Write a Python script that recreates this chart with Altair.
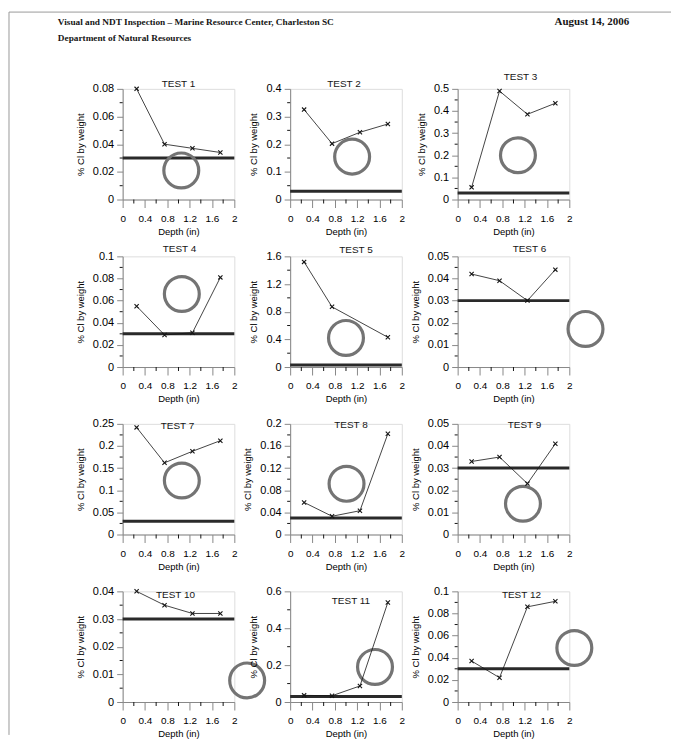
import altair as alt
import pandas as pd

# ---------------- data ----------------
tests = ["TEST 1", "TEST 2", "TEST 3", "TEST 4", "TEST 5", "TEST 6",
         "TEST 7", "TEST 8", "TEST 9", "TEST 10", "TEST 11", "TEST 12"]

depth4 = [0.25, 0.75, 1.25, 1.75]
depth3 = [0.25, 0.75, 1.75]
depths = [depth4, depth4, depth4, depth4, depth3, depth4,
          depth4, depth4, depth4, depth4, depth4, depth4]

cl_t1 = [0.080, 0.040, 0.037, 0.034]
cl_t2 = [0.325, 0.202, 0.243, 0.273]
cl_t3 = [0.055, 0.490, 0.385, 0.435]
cl_t4 = [0.055, 0.029, 0.031, 0.081]
cl_t5 = [1.52, 0.87, 0.43]
cl_t6 = [0.042, 0.039, 0.030, 0.044]
cl_t7 = [0.242, 0.162, 0.188, 0.212]
cl_t8 = [0.058, 0.033, 0.043, 0.182]
cl_t9 = [0.033, 0.035, 0.023, 0.041]
cl_t10 = [0.040, 0.035, 0.032, 0.032]
cl_t11 = [0.036, 0.034, 0.087, 0.540]
cl_t12 = [0.037, 0.022, 0.086, 0.091]
values = [cl_t1, cl_t2, cl_t3, cl_t4, cl_t5, cl_t6,
          cl_t7, cl_t8, cl_t9, cl_t10, cl_t11, cl_t12]

threshold = 0.03
threshold_span = [0, 2]

# rebar (circle) location per test, in depth / %Cl units
rebar_x = [1.05, 1.11, 1.08, 1.06, 1.00, 2.29, 1.06, 1.01, 1.17, 2.23, 1.52, 2.09]
rebar_y = [0.021, 0.155, 0.200, 0.066, 0.42, 0.0172, 0.122, 0.0916, 0.0139, 0.0078, 0.19, 0.0488]

y_ticks = [
    [0, 0.02, 0.04, 0.06, 0.08],
    [0, 0.1, 0.2, 0.3, 0.4],
    [0, 0.1, 0.2, 0.3, 0.4, 0.5],
    [0, 0.02, 0.04, 0.06, 0.08, 0.1],
    [0, 0.4, 0.8, 1.2, 1.6],
    [0, 0.01, 0.02, 0.03, 0.04, 0.05],
    [0, 0.05, 0.1, 0.15, 0.2, 0.25],
    [0, 0.04, 0.08, 0.12, 0.16, 0.2],
    [0, 0.01, 0.02, 0.03, 0.04, 0.05],
    [0, 0.01, 0.02, 0.03, 0.04],
    [0, 0.2, 0.4, 0.6],
    [0, 0.02, 0.04, 0.06, 0.08, 0.1],
]
x_ticks = [0, 0.4, 0.8, 1.2, 1.6, 2]
x_minor = [0.2, 0.6, 1.0, 1.4, 1.8]

header_line1 = "Visual and NDT Inspection \u2013 Marine Resource Center, Charleston SC"
header_line2 = "Department of Natural Resources"
header_date = "August 14, 2006"

# ---------------- styling ----------------
W, H = 112, 111
INK = "#151515"
SANS = "Liberation Sans"
SERIF = "Liberation Serif"

# title placement (center, relative to plot area)
title_pos = [(56, -5), (54, -5), (63, -12), (57, -7), (66, -6), (72, -7),
             (55, 2), (61, 1), (67, 1), (53, 4), (61, 10), (64, 4)]


def panel(i):
    ymax = y_ticks[i][-1]
    xs = alt.Scale(domain=[0, 2], nice=False, zero=False)
    ys = alt.Scale(domain=[0, ymax], nice=False, zero=False)
    x_axis = alt.Axis(values=x_ticks, format=".1~f", title="Depth (in)",
                      tickSize=8, labelPadding=6, titlePadding=3,
                      labelFontSize=10, titleFontSize=9.5, titleFontWeight="normal",
                      labelOverlap=False, labelFlush=False, labelBound=False, grid=False)
    y_axis = alt.Axis(values=y_ticks[i], format="~g", title="% Cl by weight",
                      tickSize=6, labelPadding=3, titlePadding=7,
                      labelFontSize=11, titleFontSize=9.5, titleFontWeight="normal",
                      labelOverlap=False, labelFlush=False, labelBound=False, grid=False)

    df = pd.DataFrame({"depth": depths[i], "cl": values[i]})
    thr = pd.DataFrame({"x0": [threshold_span[0]], "x1": [threshold_span[1]], "y": [threshold]})
    circ = pd.DataFrame({"depth": [rebar_x[i]], "cl": [rebar_y[i]]})
    yt = y_ticks[i]
    ymin = pd.DataFrame({"v": [(a + b) / 2 for a, b in zip(yt[:-1], yt[1:])]})
    xmin = pd.DataFrame({"v": x_minor})
    ttl = pd.DataFrame({"t": [tests[i]]})

    line_layer = alt.Chart(df).mark_line(color=INK, strokeWidth=0.8).encode(
        x=alt.X("depth:Q", scale=xs, axis=x_axis), y=alt.Y("cl:Q", scale=ys, axis=y_axis))
    thr_layer = alt.Chart(thr).mark_rule(color="#2a2a2a", strokeWidth=3).encode(
        x=alt.X("x0:Q", scale=xs, axis=x_axis), x2="x1:Q",
        y=alt.Y("y:Q", scale=ys, axis=y_axis))
    circ_layer = alt.Chart(circ).mark_point(shape="circle", filled=False, size=1225,
                                            strokeWidth=3.2, color="#747474", opacity=1).encode(
        x=alt.X("depth:Q", scale=xs, axis=x_axis), y=alt.Y("cl:Q", scale=ys, axis=y_axis))
    pt_layer = alt.Chart(df).mark_point(shape="M-1,-1L1,1M-1,1L1,-1", filled=False, size=18,
                                        color=INK, strokeWidth=1.1, opacity=1).encode(
        x=alt.X("depth:Q", scale=xs, axis=x_axis), y=alt.Y("cl:Q", scale=ys, axis=y_axis))
    ymin_layer = alt.Chart(ymin).mark_rule(color=INK, strokeWidth=1).encode(
        y=alt.Y("v:Q", scale=ys, axis=y_axis), x=alt.value(-3), x2=alt.value(0))
    xmin_layer = alt.Chart(xmin).mark_rule(color=INK, strokeWidth=1).encode(
        x=alt.X("v:Q", scale=xs, axis=x_axis), y=alt.value(H), y2=alt.value(H + 4))
    tx, ty = title_pos[i]
    ttl_layer = alt.Chart(ttl).mark_text(font=SANS, fontSize=10, color=INK,
                                         align="center", baseline="middle").encode(
        text="t:N", x=alt.value(tx), y=alt.value(ty))

    return alt.layer(thr_layer, circ_layer, line_layer, pt_layer, ymin_layer,
                     xmin_layer, ttl_layer).properties(width=W, height=H)


panels = [panel(i) for i in range(12)]
grid = alt.concat(*panels, columns=3, spacing={"row": 57, "column": 56}, bounds="flush")

# header with page frame
hdr_df = pd.DataFrame({"l1": [header_line1], "l2": [header_line2], "d": [header_date]})
hbase = alt.Chart(hdr_df)
h1 = hbase.mark_text(font=SERIF, fontWeight="bold", fontSize=9.3, color=INK,
                     align="left", baseline="middle").encode(
    text="l1:N", x=alt.value(-65), y=alt.value(10))
h2 = hbase.mark_text(font=SERIF, fontWeight="bold", fontSize=9.3, color=INK,
                     align="left", baseline="middle").encode(
    text="l2:N", x=alt.value(-65), y=alt.value(26))
h3 = hbase.mark_text(font=SERIF, fontWeight="bold", fontSize=11, color=INK,
                     align="right", baseline="middle").encode(
    text="d:N", x=alt.value(508), y=alt.value(10))
frame_top = hbase.mark_rule(color="#9a9a9a", strokeWidth=1).encode(
    x=alt.value(-114), x2=alt.value(550), y=alt.value(0))
frame_left = hbase.mark_rule(color="#9a9a9a", strokeWidth=1).encode(
    x=alt.value(-114), y=alt.value(0), y2=alt.value(725))
header = alt.layer(frame_top, frame_left, h1, h2, h3).properties(
    width=448, height=70,
    view=alt.ViewBackground(stroke="transparent", strokeWidth=0, fill="transparent"))

chart = alt.vconcat(header, grid, spacing=7, bounds="flush").properties(
    padding={"left": 0, "top": 2, "right": 0, "bottom": 0}
).configure_view(
    strokeWidth=0, stroke="transparent"
).configure_axis(
    labelOverlap=False, labelFlush=False, labelBound=False, grid=False,
    labelFont=SANS, titleFont=SANS, titleFontWeight="normal",
    domainColor=INK, tickColor=INK, labelColor=INK, titleColor=INK,
    domainWidth=1, tickWidth=1
).configure(background="white")

chart.save("out.html", embed_options={"renderer": "svg", "actions": False})
